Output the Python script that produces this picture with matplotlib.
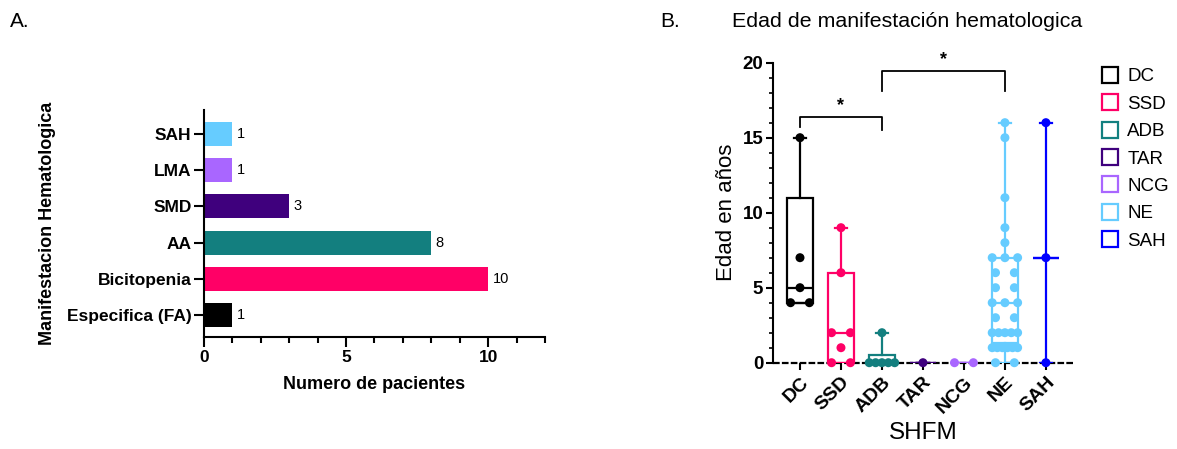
import numpy as np
import matplotlib
matplotlib.use('Agg')
import matplotlib.pyplot as plt
from matplotlib.lines import Line2D

plt.rcParams['font.family'] = ['Liberation Sans', 'DejaVu Sans']

# ---- panel A data
manif = ['Especifica (FA)', 'Bicitopenia', 'AA', 'SMD', 'LMA', 'SAH']
n_pacientes = [1, 10, 8, 3, 1, 1]
manif_colors = ['#000000', '#FF0066', '#137F7F', '#3F007D', '#A966FF', '#66CCFF']

# ---- panel B data
grupos = ['DC', 'SSD', 'ADB', 'TAR', 'NCG', 'NE', 'SAH']
grupo_colors = ['#000000', '#FF0066', '#137F7F', '#3F007D', '#A966FF', '#66CCFF', '#0000FF']
edades = [
    [4, 4, 5, 7, 15],
    [0, 0, 1, 2, 2, 6, 9],
    [0, 0, 0, 0, 0, 2],
    [0],
    [0, 0],
    [0, 0, 1, 1, 1, 1, 1, 1, 2, 2, 2, 2, 2, 3, 3, 4, 4, 4, 5, 5, 6, 6, 7, 7, 7, 8, 9, 11, 15, 16],
    [0, 7, 16],
]
# box stats (GraphPad style min-max whiskers)
q1 = [4, 0, 0, 0, 0, 1.3, 7]
med = [5, 2, 0, 0, 0, 4, 7]
q3 = [11, 6, 0.5, 0, 0, 7, 7]
whislo = [4, 0, 0, 0, 0, 0, 0]
whishi = [15, 9, 2, 0, 0, 16, 16]

fig = plt.figure(figsize=(11.77, 4.49), dpi=100)

# ================= A =================
axA = fig.add_axes([0.1733, 0.2494, 0.2897, 0.5056])
ypos = np.arange(len(manif))
axA.barh(ypos, n_pacientes, height=0.66, color=manif_colors)
for y, v in zip(ypos, n_pacientes):
    axA.text(v + 0.15, y, str(v), va='center', ha='left', fontsize=10.5)
axA.set_xlim(0, 12)
axA.set_ylim(-0.6, 5.65)
axA.set_yticks(ypos)
axA.set_yticklabels(manif, fontsize=12.5, fontweight='bold')
axA.set_xticks([0, 5, 10])
axA.set_xticklabels(['0', '5', '10'], fontsize=12.5, fontweight='bold')
axA.set_xticks(np.arange(0, 13, 1), minor=True)
axA.tick_params(axis='both', which='major', length=7, width=1.5, direction='out', pad=2)
axA.tick_params(axis='x', which='minor', length=4, width=1.5, direction='out')
for s in ['top', 'right']:
    axA.spines[s].set_visible(False)
for s in ['left', 'bottom']:
    axA.spines[s].set_linewidth(1.5)
axA.set_xlabel('Numero de pacientes', fontsize=13, fontweight='bold', labelpad=8)
axA.set_ylabel('Manifestacion Hematologica', fontsize=13, fontweight='bold', labelpad=8)
fig.text(0.0085, 0.94, 'A.', fontsize=15)

# ================= B =================
axB = fig.add_axes([0.6567, 0.1922, 0.2549, 0.6682])
xpos = np.arange(len(grupos))
stats = []
for i in range(len(grupos)):
    stats.append(dict(med=med[i], q1=q1[i], q3=q3[i], whislo=whislo[i], whishi=whishi[i], fliers=[]))
bp = axB.bxp(stats, positions=xpos, widths=0.62, showfliers=False, capwidths=0.3,
             patch_artist=True, manage_ticks=False)
for i, c in enumerate(grupo_colors):
    bp['boxes'][i].set(facecolor='white', edgecolor=c, linewidth=1.6, zorder=2)
    bp['medians'][i].set(color=c, linewidth=1.6, zorder=3)
    for w in bp['whiskers'][2 * i:2 * i + 2]:
        w.set(color=c, linewidth=1.6)
    for cp in bp['caps'][2 * i:2 * i + 2]:
        cp.set(color=c, linewidth=1.6)

# points, spread sideways where values repeat
for i, vals in enumerate(edades):
    vals = np.array(vals, dtype=float)
    for v in np.unique(vals):
        k = int((vals == v).sum())
        step = 0.46 if k < 3 else 0.62 / (k - 1)
        offs = (np.arange(k) - (k - 1) / 2) * step
        axB.scatter(xpos[i] + offs, [v] * k, s=42, color=grupo_colors[i], zorder=4,
                    edgecolors='none', clip_on=False)

axB.set_xlim(-0.66, 6.66)
axB.set_ylim(0, 20)
axB.axhline(0, color='black', lw=1.6, ls=(0, (3, 1)), zorder=1, clip_on=False)
axB.set_yticks([0, 5, 10, 15, 20])
axB.set_yticklabels(['0', '5', '10', '15', '20'], fontsize=13.5, fontweight='bold')
axB.set_yticks(np.arange(0, 21, 1), minor=True)
axB.set_xticks(xpos)
axB.set_xticklabels(grupos, rotation=45, ha='right', rotation_mode='anchor',
                    fontsize=14, fontweight='bold')
axB.tick_params(axis='y', which='major', length=5, width=1.5, pad=2)
axB.tick_params(axis='y', which='minor', length=3, width=1.2)
axB.tick_params(axis='x', which='major', length=5, width=1.5, pad=3)
for s in ['top', 'right', 'bottom']:
    axB.spines[s].set_visible(False)
axB.spines['left'].set_linewidth(1.5)
axB.set_ylabel('Edad en años', fontsize=16, labelpad=4)
axB.set_xlabel('SHFM', fontsize=17.5, labelpad=4)
fig.text(0.7705, 0.952, 'Edad de manifestación hematologica', fontsize=15.4,
         ha='center', va='center')
fig.text(0.561, 0.94, 'B.', fontsize=15)

# significance brackets
def bracket(ax, x1, x2, y, yl, yr, txt='*'):
    ax.plot([x1, x1, x2, x2], [yl, y, y, yr], color='black', lw=1.3, clip_on=False)
    ax.text((x1 + x2) / 2, y + 0.2, txt, ha='center', va='bottom', fontsize=13, fontweight='bold')

bracket(axB, 0, 2, 16.4, 15.7, 15.5)
bracket(axB, 2, 5, 19.45, 18.1, 18.1)

# legend as open squares
handles = [Line2D([], [], marker='s', linestyle='none', markersize=11, markerfacecolor='white',
                  markeredgecolor=c, markeredgewidth=1.6) for c in grupo_colors]
fig.legend(handles, grupos, loc='upper left', bbox_to_anchor=(0.9275, 0.865), frameon=False,
           fontsize=13.5, handlelength=1.2, handletextpad=0.3, labelspacing=0.55, borderaxespad=0)

fig.savefig('out.png', dpi=100)
